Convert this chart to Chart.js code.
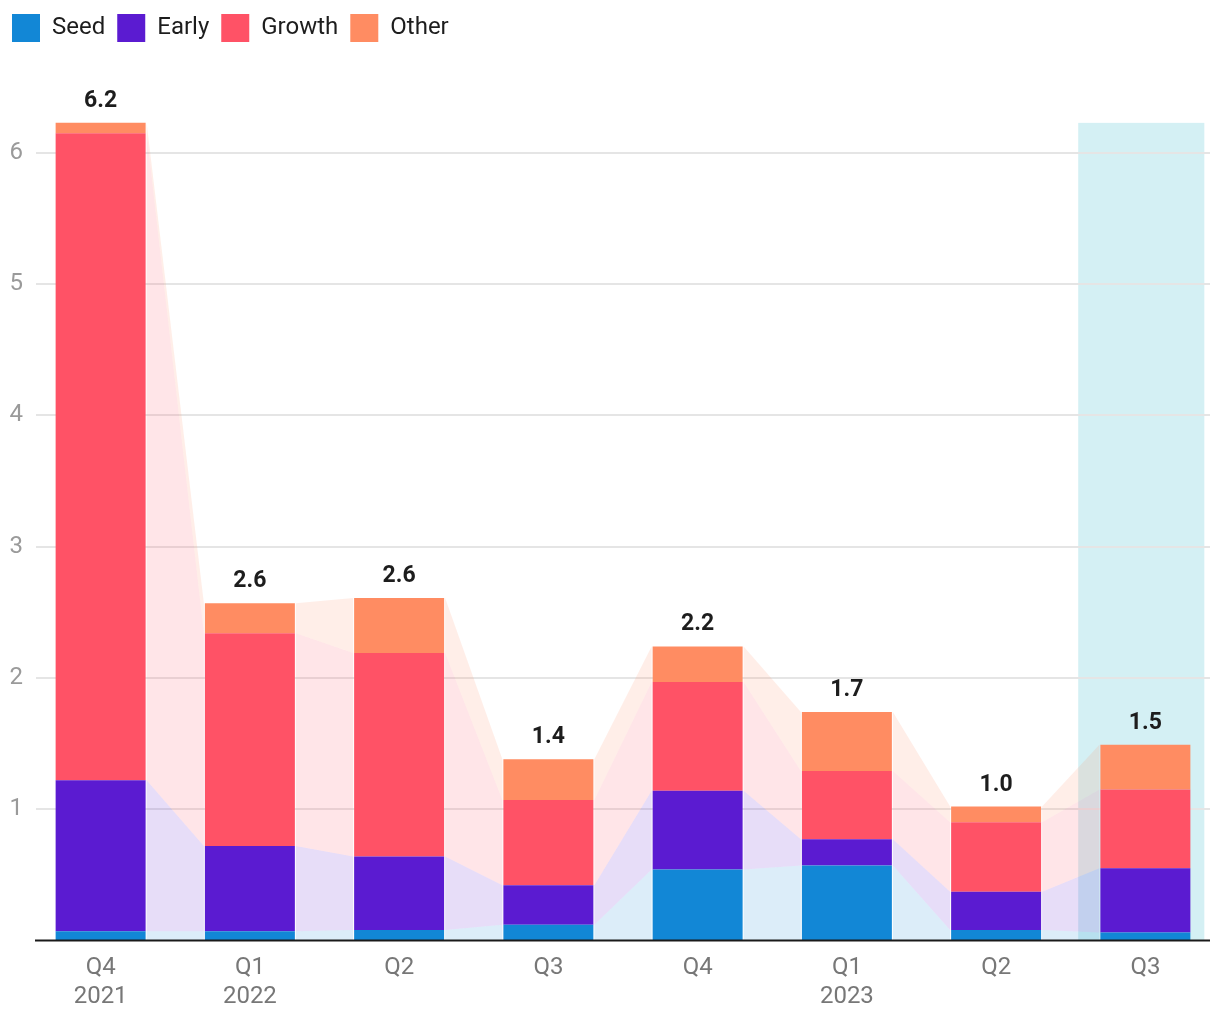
<!DOCTYPE html>
<html>
<head>
<meta charset="utf-8">
<script src="https://cdn.jsdelivr.net/npm/chart.js@4.4.1/dist/chart.umd.min.js"></script>
<style>
  html, body { margin: 0; padding: 0; background: #fff; }
  #chart { display: block; }
</style>
</head>
<body>
<canvas id="chart" width="1220" height="1020"></canvas>
<script>
// ----- data -----
const quarters = [["Q4", "2021"], ["Q1", "2022"], ["Q2"], ["Q3"], ["Q4"], ["Q1", "2023"], ["Q2"], ["Q3"]];
const seriesNames = ["Seed", "Early", "Growth", "Other"];
const seed   = [0.07, 0.07, 0.08, 0.12, 0.54, 0.57, 0.08, 0.06];
const early  = [1.15, 0.65, 0.56, 0.30, 0.60, 0.20, 0.29, 0.49];
const growth = [4.93, 1.62, 1.55, 0.65, 0.83, 0.52, 0.53, 0.60];
const other  = [0.08, 0.23, 0.42, 0.31, 0.27, 0.45, 0.12, 0.34];
const yTicks = [1, 2, 3, 4, 5, 6];
const highlightIndex = 7;

// ----- colours -----
const colors = ["#1287d6", "#5b1bd1", "#ff5266", "#ff8c62"];
const bandColors = [
  "rgba(18,135,214,0.15)",
  "rgba(91,27,209,0.15)",
  "rgba(255,82,102,0.15)",
  "rgba(255,140,98,0.15)",
];

const values = [seed, early, growth, other];
const totals = quarters.map((_, i) => values.reduce((s, arr) => s + arr[i], 0));

Chart.defaults.font.family = "Roboto, 'Noto Sans', sans-serif";

// highlight column, grid and connecting bands behind the bars
const backdropPlugin = {
  id: "backdrop",
  beforeDatasetsDraw(chart) {
    const { ctx, chartArea, scales } = chart;
    const x = scales.x, y = scales.y;
    const cat = x.getPixelForValue(1) - x.getPixelForValue(0);

    // highlighted quarter
    const hc = x.getPixelForValue(highlightIndex);
    const top = y.getPixelForValue(Math.max(...totals));
    ctx.save();
    ctx.fillStyle = "#d4f0f4";
    ctx.fillRect(hc - cat * 0.45, top, cat * 0.845, y.getPixelForValue(0) - top);

    // grid
    ctx.strokeStyle = "#e5e5e5";
    ctx.lineWidth = 2;
    yTicks.forEach((t) => {
      const py = Math.round(y.getPixelForValue(t));
      ctx.beginPath();
      ctx.moveTo(chartArea.left + 10, py);
      ctx.lineTo(chartArea.right - 10, py);
      ctx.stroke();
    });

    // bands between neighbouring bars
    chart.data.datasets.forEach((ds, di) => {
      const bars = chart.getDatasetMeta(di).data;
      ctx.fillStyle = bandColors[di];
      for (let i = 0; i < bars.length - 1; i++) {
        const a = bars[i], b = bars[i + 1];
        const x1 = a.x + a.width / 2 + 1;
        const x2 = b.x - b.width / 2 - 1;
        ctx.beginPath();
        ctx.moveTo(x1, a.y);
        ctx.lineTo(x2, b.y);
        ctx.lineTo(x2, b.base);
        ctx.lineTo(x1, a.base);
        ctx.closePath();
        ctx.fill();
      }
    });
    ctx.restore();
  },
  afterDatasetsDraw(chart) {
    const { ctx, chartArea, scales } = chart;
    const y = scales.y;
    const last = chart.getDatasetMeta(chart.data.datasets.length - 1).data;
    ctx.save();
    // totals
    ctx.fillStyle = "#1d1d1d";
    ctx.font = "bold 23px Roboto, sans-serif";
    ctx.textAlign = "center";
    ctx.textBaseline = "alphabetic";
    last.forEach((bar, i) => {
      ctx.fillText(totals[i].toFixed(1), bar.x, bar.y - 16);
    });
    // baseline
    const by = y.getPixelForValue(0);
    ctx.strokeStyle = "#1a1a1a";
    ctx.lineWidth = 2;
    ctx.beginPath();
    ctx.moveTo(chartArea.left + 9, by);
    ctx.lineTo(chartArea.right - 10, by);
    ctx.stroke();
    ctx.restore();
  },
};

const chart = new Chart(document.getElementById("chart"), {
  type: "bar",
  data: {
    labels: quarters,
    datasets: seriesNames.map((name, i) => ({
      label: name,
      data: values[i],
      backgroundColor: colors[i],
      borderWidth: 0,
      categoryPercentage: 1,
      barPercentage: 0.603,
    })),
  },
  options: {
    responsive: false,
    animation: false,
    layout: { padding: { top: 2, bottom: -4, left: 0, right: 0 } },
    plugins: {
      legend: {
        position: "top",
        align: "start",
        labels: {
          boxWidth: 28,
          boxHeight: 28,
          padding: 12,
          color: "#1d1d1d",
          font: { size: 24 },
        },
      },
      tooltip: { enabled: false },
    },
    scales: {
      x: {
        stacked: true,
        grid: { display: false, drawTicks: false },
        border: { display: false },
        ticks: { color: "#777", font: { size: 24 }, padding: 13, maxRotation: 0 },
      },
      y: {
        stacked: true,
        min: 0,
        max: 6.77,
        grid: { display: false, drawTicks: false },
        border: { display: false },
        ticks: {
          stepSize: 1,
          color: "#9a9a9a",
          font: { size: 24 },
          padding: 3,
          callback: (v) => (Number.isInteger(v) && v > 0 ? v : ""),
        },
        afterFit(scale) {
          scale.width = 26;
        },
      },
    },
  },
  plugins: [backdropPlugin],
});
</script>
</body>
</html>
